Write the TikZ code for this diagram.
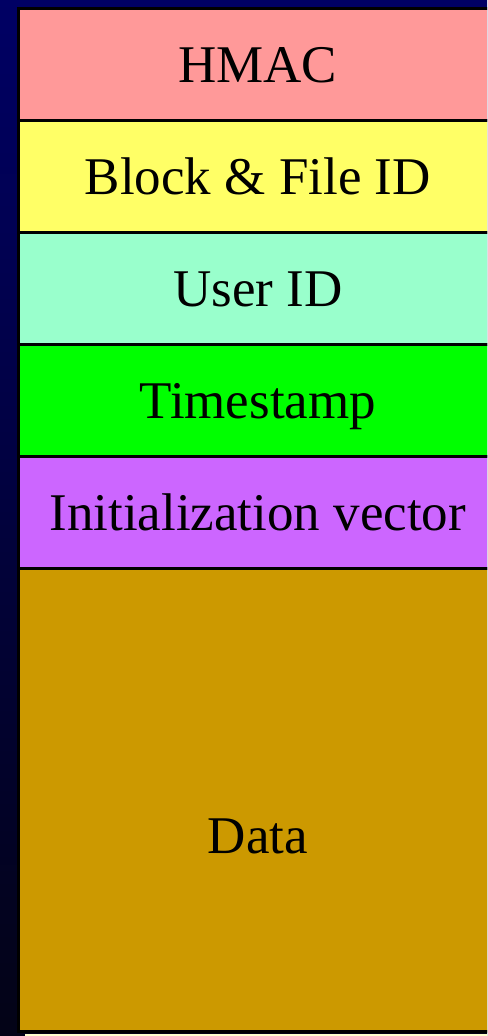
\documentclass[tikz,border=0pt]{standalone}
\usepackage{fontspec}
\setmainfont{Liberation Serif}
\usepackage{xcolor}
\usepackage{tikz}
\usetikzlibrary{positioning}
\definecolor{fondoarriba}{HTML}{000064}
\definecolor{fondoabajo}{HTML}{030316}
\definecolor{rosa}{HTML}{FF9999}
\definecolor{amarillo}{HTML}{FFFF66}
\definecolor{menta}{HTML}{99FFCC}
\definecolor{verde}{HTML}{00FF00}
\definecolor{lila}{HTML}{CC66FF}
\definecolor{ocre}{HTML}{CC9900}
\definecolor{crema}{HTML}{FFFFCC}
\newcommand\campofont{\fontsize{39.75pt}{46pt}\selectfont}

\begin{document}
\begin{tikzpicture}[
      x=0.75pt, y=-0.75pt,
      campo/.style={rectangle, draw=black, line width=2pt, inner sep=0pt, outer sep=0pt,
                    minimum width=358.9pt, minimum height=84pt,
                    font=\campofont, text height=26.3pt, text depth=0pt},
      rotulo/.style={font=\campofont, text height=26.3pt, text depth=0pt, inner sep=0pt}]

    \useasboundingbox (0,0) rectangle (487,1036);
    \clip (0,0) rectangle (487,1036);
    \shade[top color=fondoarriba, bottom color=fondoabajo] (0,0) rectangle (487,1036);

    % bloque cifrado, campo a campo
    \node[campo, fill=rosa, anchor=north west] (hmac) at (18.5,8.5) {HMAC};
    \node[campo, fill=amarillo, below=0pt of hmac] (bloque) {Block \& File ID};
    \node[campo, fill=menta, below=0pt of bloque] (usuario) {User ID};
    \node[campo, fill=verde, below=0pt of usuario] (tiempo) {Timestamp};
    \node[campo, fill=lila, below=0pt of tiempo] (iv) {Initialization vector};
    \node[campo, fill=ocre, minimum height=347.25pt, below=0pt of iv] (datos) {};
    \node[rotulo] (datostxt) at ([yshift=-27pt]datos.center) {Data};

    \fill[crema] (25,1033.5) rectangle (497,1037);
  \end{tikzpicture}
\end{document}
